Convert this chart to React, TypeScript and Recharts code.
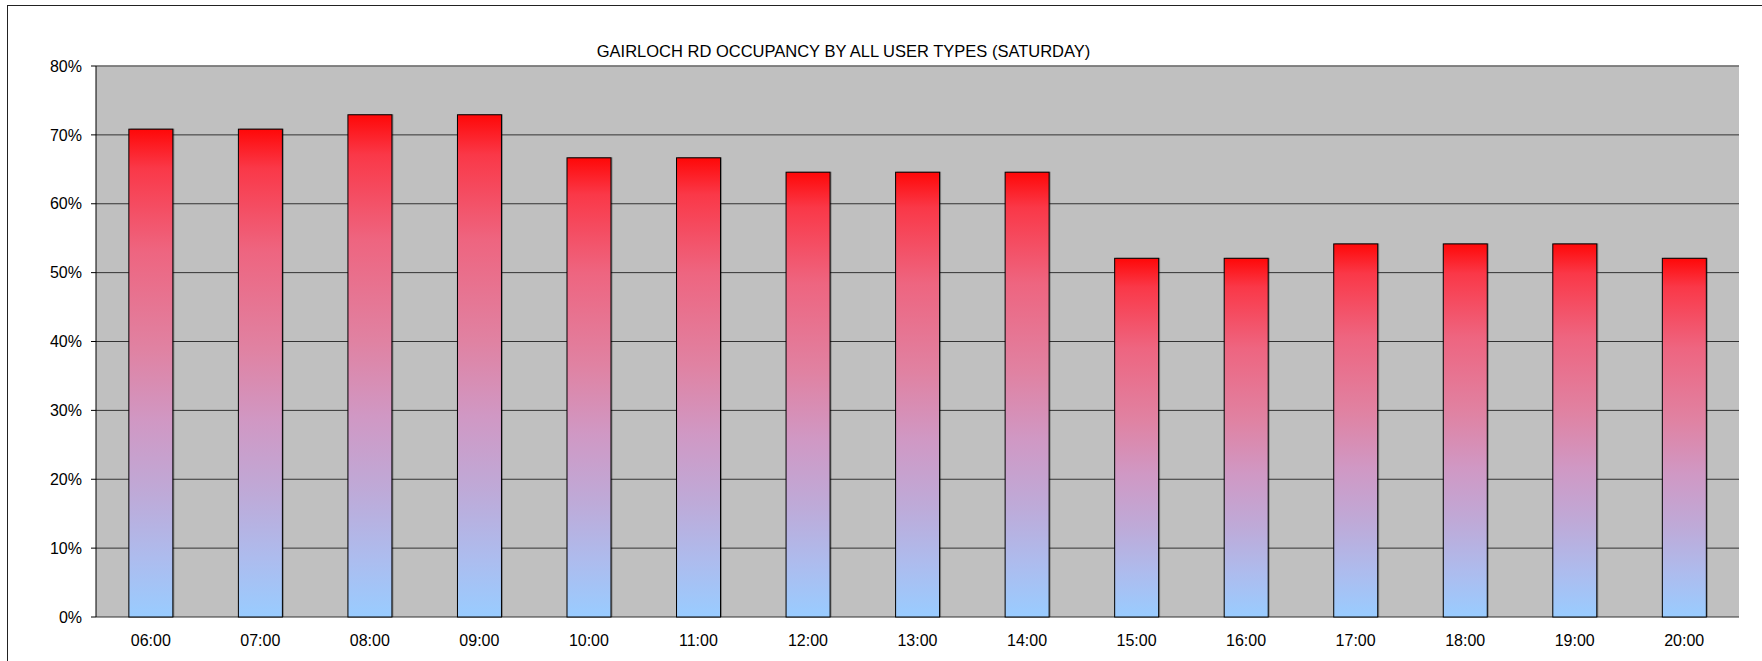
import React from 'react';
import { BarChart, Bar, XAxis, YAxis, CartesianGrid, ReferenceLine } from 'recharts';

const times = ['06:00', '07:00', '08:00', '09:00', '10:00', '11:00', '12:00', '13:00', '14:00', '15:00', '16:00', '17:00', '18:00', '19:00', '20:00'];
const occupancy = [70.83, 70.83, 72.92, 72.92, 66.67, 66.67, 64.58, 64.58, 64.58, 52.08, 52.08, 54.17, 54.17, 54.17, 52.08];
const yTicks = [0, 10, 20, 30, 40, 50, 60, 70, 80];
const boundaryTicks = Array.from({ length: times.length + 1 }, (_, i) => i);
const title = 'GAIRLOCH RD OCCUPANCY BY ALL USER TYPES (SATURDAY)';

const data = times.map((t, i) => ({ time: t, value: occupancy[i] }));

const FONT = '"Liberation Sans", Arial, sans-serif';

const BarShape = (props: any) => {
  const { x, y, width, height } = props;
  if (!height || height <= 0) return null;
  return (
    <g>
      <rect x={x + 1.5} y={y - 0.5} width={width} height={height + 0.5} fill="rgba(0,0,0,0.3)" />
      <rect x={x} y={y} width={width} height={height} fill="url(#barGrad)" stroke="#000" strokeWidth={1} />
    </g>
  );
};

export default function App() {
  return (
    <div style={{ position: 'fixed', left: 0, top: 0, width: 1762, height: 661, background: '#fff', overflow: 'hidden' }}>
      <div
        style={{
          position: 'absolute',
          left: 7,
          top: 5,
          width: 1800,
          height: 700,
          borderLeft: '1.5px solid #222',
          borderTop: '1.5px solid #222',
        }}
      />
      <div
        style={{
          position: 'absolute',
          left: 0,
          top: 43,
          width: 1687,
          textAlign: 'center',
          fontFamily: FONT,
          fontSize: 16.5,
          lineHeight: '17px',
          color: '#000',
          whiteSpace: 'nowrap',
        }}
      >
        {title}
      </div>
      <div style={{ position: 'absolute', left: 0, top: 0 }}>
        <BarChart
          width={1762}
          height={661}
          data={data}
          margin={{ top: 66, right: 23, bottom: 14, left: 36 }}
          barCategoryGap="30%"
        >
          <defs>
            <linearGradient id="barGrad" x1="0" y1="0" x2="0" y2="1">
              <stop offset="0%" stopColor="#FF0808" />
              <stop offset="8%" stopColor="#FA3848" />
              <stop offset="25%" stopColor="#EE6580" />
              <stop offset="45%" stopColor="#E082A2" />
              <stop offset="60%" stopColor="#D098C4" />
              <stop offset="75%" stopColor="#BEAAD8" />
              <stop offset="88%" stopColor="#ADBCEE" />
              <stop offset="100%" stopColor="#99CCFF" />
            </linearGradient>
          </defs>
          <CartesianGrid vertical={false} stroke="#333" strokeWidth={1} fill="#C0C0C0" fillOpacity={1} />
          <XAxis
            xAxisId="bounds"
            type="number"
            domain={[0, times.length]}
            ticks={boundaryTicks}
            allowDataOverflow
            tick={false}
            tickSize={5}
            height={0}
            axisLine={{ stroke: '#000', strokeWidth: 1 }}
            tickLine={{ stroke: '#000', strokeWidth: 1 }}
          />
          <XAxis
            dataKey="time"
            axisLine={false}
            tickLine={false}
            tickSize={5}
            tickMargin={13}
            height={30}
            interval={0}
            tick={{ fill: '#000', fontSize: 16, fontFamily: FONT }}
          />
          <YAxis
            domain={[0, 80]}
            ticks={yTicks}
            interval={0}
            width={60}
            tickSize={5}
            tickMargin={9}
            tickFormatter={(v: number) => `${v}%`}
            axisLine={{ stroke: '#000', strokeWidth: 1 }}
            tickLine={{ stroke: '#000', strokeWidth: 1 }}
            tick={{ fill: '#000', fontSize: 16, fontFamily: FONT }}
          />
          <ReferenceLine y={80} stroke="#808080" strokeWidth={1.5} />
          <ReferenceLine xAxisId="bounds" x={times.length} stroke="#A0A0A0" strokeWidth={1.5} />
          <Bar dataKey="value" isAnimationActive={false} shape={<BarShape />} />
        </BarChart>
      </div>
    </div>
  );
}
